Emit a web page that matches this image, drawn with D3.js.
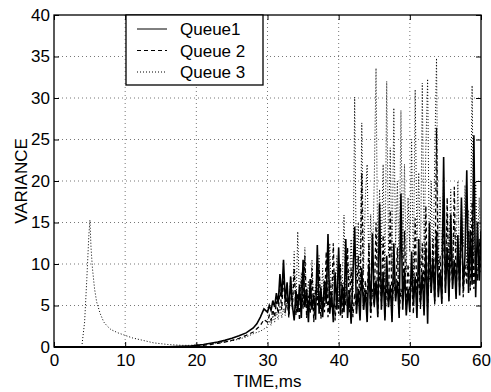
<!DOCTYPE html>
<html>
<head>
<meta charset="utf-8">
<script src="https://cdn.jsdelivr.net/npm/d3@7"></script>
<style>
  body { margin: 0; background: #fff; }
  svg { font-family: "Liberation Sans", Arial, sans-serif; }
</style>
</head>
<body>
<svg id="chart" width="491" height="392"></svg>
<script>
// tick labels
var xTicks = [0, 10, 20, 30, 40, 50, 60];
var yTicks = [0, 5, 10, 15, 20, 25, 30, 35, 40];
var seriesNames = ["Queue1", "Queue 2", "Queue 3"];

// smooth start of each series (time, value)
var q1StartT = [15, 17, 19, 20, 21, 22, 23, 24, 25, 26, 27, 28, 28.5, 29, 29.5];
var q1StartV = [0.0, 0.05, 0.1, 0.2, 0.3, 0.45, 0.6, 0.8, 1.05, 1.35, 1.7, 2.3, 2.8, 3.6, 4.6];
var q2StartT = [17, 19, 20, 21, 22, 23, 24, 25, 26, 27, 28, 28.5, 29, 29.5];
var q2StartV = [0.0, 0.05, 0.1, 0.2, 0.3, 0.45, 0.6, 0.8, 1.05, 1.4, 1.8, 2.2, 2.6, 3.3];
var q3StartT = [3.9, 4.3, 4.6, 4.9, 5.05, 5.2, 5.4, 5.7, 6, 6.5, 7, 7.5, 8, 9, 10, 11, 12, 13, 14, 15,
                16, 17, 18, 19, 20, 21, 22, 23, 24, 25, 26, 27, 28, 29, 29.75];
var q3StartV = [0, 3, 8, 13.5, 15.3, 12, 9.5, 7, 5.4, 4, 3, 2.5, 2.1, 1.7, 1.4, 1.1, 0.9, 0.7, 0.5, 0.4,
                0.3, 0.25, 0.2, 0.2, 0.25, 0.3, 0.4, 0.5, 0.6, 0.75, 0.95, 1.2, 1.6, 1.9, 2.3];

// noisy part, sampled every 0.25 ms from 30 to 60
var noiseT = d3.range(30, 60.001, 0.25);
var q1Noise = [4.2, 5.0, 4.4, 5.6, 4.8, 6.5, 5.2, 8.8, 6.0, 10.5, 5.4, 7.8, 4.0, 8.5, 5.0, 3.2, 6.8, 4.2, 7.5, 3.5,
               10.5, 4.8, 7.0, 3.0, 8.2, 4.5, 6.3, 3.3, 12.3, 4.0, 7.2, 3.6, 8.0, 5.2, 13.6, 4.0, 6.5, 3.0, 9.0, 4.5,
               12.0, 3.8, 7.5, 4.2, 13.0, 3.5, 6.8, 2.8, 8.5, 14.5, 4.0, 7.0, 3.2, 9.5, 4.5, 6.8, 3.0, 10.0, 4.2, 13.7,
               5.0, 8.0, 3.6, 17.3, 4.5, 9.0, 3.2, 11.0, 4.8, 7.5, 3.0, 12.5, 5.5, 8.0, 3.5, 18.5, 4.5, 9.5, 3.8, 7.0,
               4.2, 11.5, 5.0, 8.5, 3.5, 13.0, 5.2, 9.0, 3.8, 12.0, 2.8, 15.0, 6.5, 10.5, 5.5, 14.0, 6.0, 9.0, 5.2, 22.9,
               6.5, 12.0, 5.5, 16.0, 7.0, 10.5, 5.8, 13.5, 6.2, 18.0, 7.0, 11.0, 21.3, 6.5, 14.0, 7.5, 25.5, 6.0, 15.0, 8.0,
               14.0];
var q2Noise = [3.0, 3.8, 3.2, 4.5, 3.6, 5.5, 4.0, 7.0, 4.5, 9.0, 4.2, 6.0, 3.5, 7.5, 4.5, 9.5, 3.8, 6.5, 3.2, 8.0,
               4.6, 11.0, 3.5, 6.2, 4.0, 9.5, 3.0, 7.0, 5.0, 10.0, 3.4, 6.0, 4.2, 11.5, 3.6, 8.0, 4.8, 12.5, 3.2, 6.5,
               4.0, 10.0, 3.5, 7.8, 5.0, 12.0, 4.2, 9.5, 3.6, 6.5, 4.5, 11.0, 3.8, 21.0, 4.5, 8.0, 5.2, 12.5, 3.5, 7.0,
               4.8, 15.0, 4.0, 9.0, 5.5, 13.5, 3.6, 7.5, 5.0, 16.5, 4.2, 8.5, 5.8, 12.0, 4.0, 7.0, 5.5, 14.0, 4.5, 10.0,
               6.0, 8.0, 4.0, 15.5, 5.5, 9.0, 4.5, 12.5, 6.0, 17.0, 4.8, 9.5, 6.5, 13.0, 5.0, 26.4, 6.5, 11.0, 5.8, 15.0,
               7.0, 18.0, 6.0, 11.5, 7.5, 19.3, 6.5, 12.0, 7.0, 15.5, 6.0, 10.0, 7.5, 14.0, 6.8, 17.5, 7.0, 11.0, 8.0, 13.0,
               9.0];
var q3Noise = [2.5, 3.2, 2.6, 3.8, 3.0, 4.2, 3.3, 5.0, 3.5, 4.6, 3.8, 6.0, 4.0, 8.5, 5.0, 11.5, 4.5, 13.9, 5.5, 9.0,
               4.8, 12.0, 5.2, 8.0, 4.5, 10.5, 5.0, 7.5, 6.0, 11.0, 4.8, 9.5, 5.5, 8.0, 6.2, 12.5, 5.0, 9.0, 6.5, 11.0,
               5.2, 8.5, 7.0, 15.9, 6.0, 10.0, 7.5, 13.0, 6.5, 30.1, 8.0, 15.0, 7.0, 27.0, 9.0, 18.0, 22.0, 8.5, 16.0, 10.0,
               20.0, 33.6, 9.5, 19.0, 12.0, 22.0, 8.0, 32.0, 11.0, 24.0, 9.5, 28.8, 12.0, 20.0, 8.5, 28.5, 10.5, 22.0, 9.0, 18.0,
               11.5, 25.0, 8.0, 31.0, 12.5, 21.0, 9.5, 31.8, 11.0, 24.0, 32.3, 10.0, 20.0, 8.5, 23.0, 34.8, 9.5, 18.0, 11.0, 20.5,
               8.0, 16.0, 10.5, 19.0, 9.0, 15.0, 11.5, 20.0, 8.5, 17.5, 12.0, 19.5, 9.5, 16.5, 11.0, 31.5, 10.0, 20.0, 12.0, 18.0,
               10.5];

var svg = d3.select("#chart");
var margin = {left: 54, right: 10, top: 15, bottom: 45};
var width = 491 - margin.left - margin.right;
var height = 392 - margin.top - margin.bottom;
var fontSize = 17;

var x = d3.scaleLinear().domain([0, 60]).range([0, width]);
var y = d3.scaleLinear().domain([0, 40]).range([height, 0]);

var g = svg.append("g").attr("transform", "translate(" + margin.left + "," + margin.top + ")");

// grid
g.append("g").selectAll("line").data(xTicks.slice(1, -1)).enter().append("line")
  .attr("x1", d => x(d)).attr("x2", d => x(d)).attr("y1", 0).attr("y2", height)
  .attr("stroke", "#777").attr("stroke-width", 1).attr("stroke-dasharray", "1,3");
g.append("g").selectAll("line").data(yTicks.slice(1, -1)).enter().append("line")
  .attr("y1", d => y(d)).attr("y2", d => y(d)).attr("x1", 0).attr("x2", width)
  .attr("stroke", "#777").attr("stroke-width", 1).attr("stroke-dasharray", "1,3");

// series
svg.append("clipPath").attr("id", "clip").append("rect").attr("width", width).attr("height", height);

function build(t0, v0, noise) {
  var pts = t0.map((t, i) => [t, v0[i]]);
  noise.forEach((v, i) => pts.push([noiseT[i], v]));
  return pts;
}
var series = [
  {name: seriesNames[0], pts: build(q1StartT, q1StartV, q1Noise), dash: null, w: 1.6},
  {name: seriesNames[1], pts: build(q2StartT, q2StartV, q2Noise), dash: "4,3", w: 1.3},
  {name: seriesNames[2], pts: build(q3StartT, q3StartV, q3Noise), dash: "1,2", w: 1}
];
var line = d3.line().x(d => x(d[0])).y(d => y(d[1]));

var lines = g.append("g").attr("clip-path", "url(#clip)");
[2, 1, 0].forEach(function(i) {
  var s = series[i];
  lines.append("path").datum(s.pts)
    .attr("d", line)
    .attr("fill", "none")
    .attr("stroke", "#000")
    .attr("stroke-width", s.w)
    .attr("stroke-dasharray", s.dash);
});

// axes with inward ticks
function styleAxis(sel) {
  sel.select(".domain").remove();
  sel.selectAll("text").attr("font-size", fontSize).attr("fill", "#000")
     .attr("font-family", "'Liberation Sans', Arial, sans-serif");
  sel.selectAll("line").attr("stroke", "#000");
}
g.append("g").attr("transform", "translate(0," + height + ")")
  .call(d3.axisBottom(x).tickValues(xTicks).tickSize(-5).tickPadding(7).tickFormat(d3.format("d")))
  .call(styleAxis);
g.append("g")
  .call(d3.axisLeft(y).tickValues(yTicks).tickSize(-5).tickPadding(4).tickFormat(d3.format("d")))
  .call(styleAxis);
g.append("g")
  .call(d3.axisTop(x).tickValues(xTicks).tickSize(-5).tickFormat(""))
  .call(styleAxis);
g.append("g").attr("transform", "translate(" + width + ",0)")
  .call(d3.axisRight(y).tickValues(yTicks).tickSize(-5).tickFormat(""))
  .call(styleAxis);

g.append("rect").attr("width", width).attr("height", height)
  .attr("fill", "none").attr("stroke", "#000").attr("stroke-width", 1.3);
g.append("line").attr("x1", 0).attr("x2", width).attr("y1", height).attr("y2", height)
  .attr("stroke", "#000").attr("stroke-width", 2);

// axis labels
svg.append("text")
  .attr("x", margin.left + width / 2).attr("y", 387)
  .attr("text-anchor", "middle").attr("font-size", fontSize)
  .text("TIME,ms");
svg.append("text")
  .attr("transform", "translate(27," + (margin.top + height / 2) + ") rotate(-90)")
  .attr("text-anchor", "middle").attr("font-size", fontSize)
  .text("VARIANCE");

// legend
var legend = svg.append("g");
legend.append("rect")
  .attr("x", 126).attr("y", 15).attr("width", 137).attr("height", 70)
  .attr("fill", "#fff").attr("stroke", "#000").attr("stroke-width", 1.3);
series.forEach(function(s, i) {
  var ly = 29 + i * 21.5;
  legend.append("line")
    .attr("x1", 137).attr("x2", 167).attr("y1", ly).attr("y2", ly)
    .attr("stroke", "#000").attr("stroke-width", 1)
    .attr("stroke-dasharray", s.dash);
  legend.append("text")
    .attr("x", 180).attr("y", ly + 6)
    .attr("font-size", fontSize)
    .text(s.name);
});
</script>
</body>
</html>
